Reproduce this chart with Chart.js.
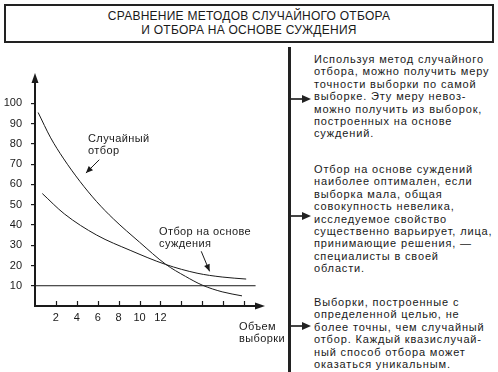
<!DOCTYPE html>
<html lang="ru">
<head>
  <meta charset="UTF-8" />
  <title>Сравнение методов отбора</title>
  <script src="https://cdn.jsdelivr.net/npm/chart.js"></script>
  <style>
    html, body {
      margin: 0;
      padding: 0;
      background: #fff;
    }
    body {
      width: 498px;
      height: 372px;
      position: relative;
      overflow: hidden;
      font-family: "Liberation Sans", Arial, sans-serif;
      color: #1a1a1a;
    }
    .titulo {
      position: absolute;
      left: 4px;
      top: 4px;
      width: 486px;
      height: 32px;
      border: 2px solid #222;
      text-align: center;
      font-size: 12px;
      line-height: 14px;
      letter-spacing: 0.25px;
      padding-top: 3px;
      box-sizing: content-box;
    }
    #grafico {
      position: absolute;
      left: 0;
      top: 0;
    }
    .rotulo {
      position: absolute;
      font-size: 11px;
      line-height: 12px;
      letter-spacing: 0.4px;
      white-space: pre;
    }
    .linha-vertical {
      position: absolute;
      left: 288px;
      top: 47px;
      width: 3px;
      height: 330px;
      background: #222;
    }
    .seta {
      position: absolute;
      left: 291px;
      width: 20px;
      height: 8px;
    }
    .seta::before {
      content: "";
      position: absolute;
      left: 0;
      top: 3px;
      width: 12px;
      height: 2px;
      background: #444;
    }
    .seta::after {
      content: "";
      position: absolute;
      left: 11px;
      top: 0;
      border-top: 4px solid transparent;
      border-bottom: 4px solid transparent;
      border-left: 9px solid #222;
    }
    .paragrafo {
      position: absolute;
      left: 314px;
      font-size: 11px;
      line-height: 12.4px;
      letter-spacing: 0.85px;
      white-space: pre;
    }
  </style>
</head>
<body>
  <div class="titulo">СРАВНЕНИЕ МЕТОДОВ СЛУЧАЙНОГО ОТБОРА<br>И ОТБОРА НА ОСНОВЕ СУЖДЕНИЯ</div>

  <canvas id="grafico" width="290" height="372"></canvas>

  <div class="rotulo" style="left:88px; top:132px;">Случайный
отбор</div>
  <div class="rotulo" style="left:159px; top:225px;">Отбор на основе
суждения</div>
  <div class="rotulo" style="left:239px; top:320px;">Объем
выборки</div>

  <div class="linha-vertical"></div>
  <div class="seta" style="top:95px;"></div>
  <div class="seta" style="top:212px;"></div>
  <div class="seta" style="top:322px;"></div>

  <div class="paragrafo" style="top:53px;">Используя метод случайного
отбора, можно получить меру
точности выборки по самой
выборке. Эту меру невоз-
можно получить из выборок,
построенных на основе
суждений.</div>
  <div class="paragrafo" style="top:163px;">Отбор на основе суждений
наиболее оптимален, если
выборка мала, общая
совокупность невелика,
исследуемое свойство
существенно варьирует, лица,
принимающие решения, —
специалисты в своей
области.</div>
  <div class="paragrafo" style="top:296px;">Выборки, построенные с
определенной целью, не
более точны, чем случайный
отбор. Каждый квазислучай-
ный способ отбора может
оказаться уникальным.</div>

  <script>
    // curva "случайный отбор"
    const aleatorioX = [0.3, 1.5, 2.7, 4.3, 5.9, 7.5, 10, 12.5, 14.4, 16, 17.9, 19.8];
    const aleatorioY = [95.5, 83, 73, 61.5, 51.5, 43, 31.5, 20.6, 14.6, 10.3, 7, 5];

    // curva "отбор на основе суждения"
    const julgamentoX = [0.7, 2.8, 5.9, 9.1, 12.5, 15.5, 17.9, 20.2];
    const julgamentoY = [55.5, 45.5, 35, 27.5, 20.5, 16.2, 14.3, 13.3];

    // linha horizontal no nivel 10
    const nivelX = [0, 21.1];
    const nivelY = [10, 10];

    // ticks do eixo x
    const ticksX = [2, 4, 6, 8, 10, 12, 14, 16, 18, 20];
    const rotulosX = [2, 4, 6, 8, 10, 12];

    // setas das anotacoes (de -> para, em unidades do grafico)
    const setaAleatorio = [[6.15, 72.2], [4.87, 65.6]];
    const setaJulgamento = [[15.9, 27], [16.7, 17.1]];

    const pontos = (xs, ys) => xs.map((x, i) => ({ x: x, y: ys[i] }));

    function ponta(ctx, x1, y1, x2, y2, comp, larg) {
      const ang = Math.atan2(y2 - y1, x2 - x1);
      ctx.beginPath();
      ctx.moveTo(x2, y2);
      ctx.lineTo(x2 - comp * Math.cos(ang) + larg * Math.sin(ang), y2 - comp * Math.sin(ang) - larg * Math.cos(ang));
      ctx.lineTo(x2 - comp * Math.cos(ang) - larg * Math.sin(ang), y2 - comp * Math.sin(ang) + larg * Math.cos(ang));
      ctx.closePath();
      ctx.fill();
    }

    const eixosPlugin = {
      id: 'eixos',
      afterDatasetsDraw(chart) {
        const ctx = chart.ctx;
        const a = chart.chartArea;
        const sx = chart.scales.x;
        const sy = chart.scales.y;
        const x0 = sx.getPixelForValue(0);
        const y0 = sy.getPixelForValue(0);
        ctx.save();
        ctx.strokeStyle = '#1a1a1a';
        ctx.fillStyle = '#1a1a1a';

        // eixo y com seta
        ctx.lineWidth = 2;
        ctx.beginPath();
        ctx.moveTo(x0, y0 + 1);
        ctx.lineTo(x0, a.top + 8);
        ctx.stroke();
        ponta(ctx, x0, y0, x0, a.top, 10, 3.5);

        // eixo x com seta
        ctx.beginPath();
        ctx.moveTo(x0 - 1, y0);
        ctx.lineTo(a.right - 8, y0);
        ctx.stroke();
        ponta(ctx, x0, y0, a.right, y0, 10, 3.5);

        // ticks do eixo x (para cima)
        ctx.lineWidth = 1.2;
        ticksX.forEach(v => {
          const px = Math.round(sx.getPixelForValue(v)) + 0.5;
          ctx.beginPath();
          ctx.moveTo(px, y0);
          ctx.lineTo(px, y0 - 5);
          ctx.stroke();
        });

        // setas das anotacoes
        ctx.lineWidth = 1;
        [setaAleatorio, setaJulgamento].forEach(s => {
          const x1 = sx.getPixelForValue(s[0][0]);
          const y1 = sy.getPixelForValue(s[0][1]);
          const x2 = sx.getPixelForValue(s[1][0]);
          const y2 = sy.getPixelForValue(s[1][1]);
          ctx.beginPath();
          ctx.moveTo(x1, y1);
          ctx.lineTo(x2, y2);
          ctx.stroke();
          ponta(ctx, x1, y1, x2, y2, 7, 3);
        });
        ctx.restore();
      }
    };

    const linha = (dados, tensao) => ({
      data: dados,
      borderColor: '#1a1a1a',
      borderWidth: 1,
      pointRadius: 0,
      fill: false,
      tension: tensao,
      cubicInterpolationMode: 'monotone',
      clip: false
    });

    new Chart(document.getElementById('grafico'), {
      type: 'line',
      data: {
        datasets: [
          linha(pontos(aleatorioX, aleatorioY), 0.4),
          linha(pontos(julgamentoX, julgamentoY), 0.4),
          { ...linha(pontos(nivelX, nivelY), 0), cubicInterpolationMode: 'default' }
        ]
      },
      options: {
        responsive: false,
        devicePixelRatio: 1,
        animation: false,
        events: [],
        layout: { padding: { top: 73, right: 25, left: 0, bottom: 0 } },
        plugins: {
          legend: { display: false },
          tooltip: { enabled: false }
        },
        scales: {
          x: {
            type: 'linear',
            min: 0,
            max: 22,
            border: { display: false },
            grid: { display: false, drawTicks: false },
            afterFit: s => { s.height = 66; },
            afterBuildTicks: s => { s.ticks = rotulosX.map(v => ({ value: v })); },
            ticks: {
              color: '#1a1a1a',
              padding: 5,
              maxRotation: 0,
              autoSkip: false,
              font: { family: 'Liberation Sans', size: 11 }
            }
          },
          y: {
            type: 'linear',
            min: 0,
            max: 115,
            border: { display: false },
            grid: {
              drawOnChartArea: false,
              drawTicks: true,
              tickLength: 4,
              color: '#1a1a1a',
              lineWidth: 1.2
            },
            afterFit: s => { s.width = 35; },
            afterBuildTicks: s => { s.ticks = s.ticks.filter(t => t.value >= 10 && t.value <= 100); },
            ticks: {
              stepSize: 10,
              color: '#1a1a1a',
              padding: 9,
              font: { family: 'Liberation Sans', size: 11 }
            }
          }
        }
      },
      plugins: [eixosPlugin]
    });
  </script>
</body>
</html>
